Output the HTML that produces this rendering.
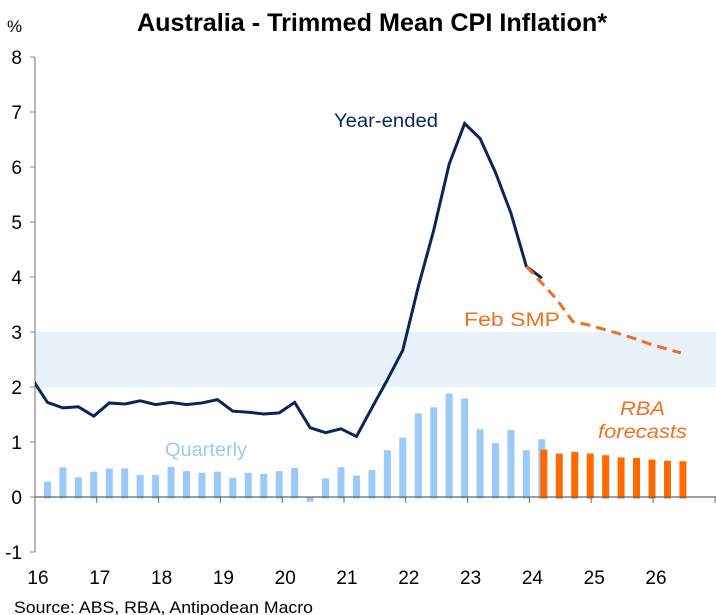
<!DOCTYPE html>
<html><head><meta charset="utf-8"><style>
body{margin:0;background:#fff;}
svg{display:block;font-family:"Liberation Sans",Arial,sans-serif;}
</style></head><body>
<svg width="716" height="615" viewBox="0 0 716 615">
<text x="137" y="31" font-size="25" font-weight="bold" fill="#000" textLength="470" lengthAdjust="spacingAndGlyphs">Australia - Trimmed Mean CPI Inflation*</text>
<text x="7" y="32" font-size="17" fill="#000">%</text>
<rect x="35" width="681" id="band" fill="#e9f2fa"/>
<g id="bars"></g>
<g id="axes"></g>
<defs><clipPath id="pc"><rect x="35" y="40" width="681" height="520"/></clipPath></defs>
<g id="lines" clip-path="url(#pc)"></g>
<text x="334" y="127" font-size="19" fill="#0b2559" textLength="104" lengthAdjust="spacingAndGlyphs">Year-ended</text>
<text x="165" y="456" font-size="19" fill="#9ccaf8" textLength="82" lengthAdjust="spacingAndGlyphs">Quarterly</text>
<text x="464" y="326" font-size="19" fill="#f07020" textLength="96" lengthAdjust="spacingAndGlyphs">Feb SMP</text>
<text x="620" y="415" font-size="19" font-style="italic" fill="#f07020" textLength="45" lengthAdjust="spacingAndGlyphs">RBA</text>
<text x="598" y="438" font-size="19" font-style="italic" fill="#f07020" textLength="89" lengthAdjust="spacingAndGlyphs">forecasts</text>
<text x="14" y="613" font-size="17" fill="#000" textLength="299" lengthAdjust="spacingAndGlyphs">Source: ABS, RBA, Antipodean Macro</text>
</svg>
<script>
const yearLabels = ["16","17","18","19","20","21","22","23","24","25","26"];
const yTicks = [-1,0,1,2,3,4,5,6,7,8];
const yearEnded = [2.15,1.72,1.62,1.64,1.47,1.71,1.69,1.75,1.68,1.72,1.68,1.71,1.77,1.56,1.54,1.51,1.53,1.72,1.26,1.17,1.24,1.10,1.62,2.13,2.67,3.82,4.85,6.05,6.79,6.52,5.90,5.16,4.19,3.98];
const quarterly = [0.28,0.54,0.36,0.46,0.52,0.52,0.40,0.40,0.55,0.47,0.44,0.46,0.35,0.44,0.42,0.47,0.53,-0.06,0.34,0.54,0.39,0.49,0.85,1.08,1.52,1.63,1.88,1.79,1.23,0.98,1.22,0.85,1.05];
const forecastQ = [0.86,0.79,0.82,0.79,0.76,0.72,0.71,0.68,0.66,0.65];
const smpYear = [4.19,3.89,3.58,3.19,3.13,3.05,2.97,2.88,2.78,2.70,2.62];
const band = [2,3];

const NS="http://www.w3.org/2000/svg";
const y = v => 497 - v*55;
const x = q => 32 + 15.45*q;
function mk(tag, attrs, parent){const e=document.createElementNS(NS,tag);for(const k in attrs)e.setAttribute(k,attrs[k]);parent.appendChild(e);return e;}

const b=document.getElementById('band');
b.setAttribute('y', y(band[1])); b.setAttribute('height', y(band[0])-y(band[1]));

const bars=document.getElementById('bars');
quarterly.forEach((v,i)=>{
  const cx=x(i+1);
  const r=mk('rect',{x:cx-3.5,y:Math.min(y(v),y(0)),width:7,height:Math.abs(y(v)-y(0))+1.5,fill:'#9ccaf8'},bars);
  
  
});
forecastQ.forEach((v,i)=>{
  const cx=x(i+33)+2;
  const r=mk('rect',{x:cx-3.5,y:y(v),width:7,height:y(0)-y(v)+1.5,fill:'#ff6a00'},bars);
  
  
});

const ax=document.getElementById('axes');
mk('line',{x1:35,y1:y(8),x2:35,y2:y(-1),stroke:'#888','stroke-width':1.2},ax);
mk('line',{x1:35,y1:y(0),x2:716,y2:y(0),stroke:'#666','stroke-width':1.2},ax);
yTicks.forEach(t=>{
  mk('line',{x1:30,y1:y(t),x2:35,y2:y(t),stroke:'#888'},ax);
  const tx=mk('text',{x:22,y:y(t)+7,'font-size':19,'text-anchor':'end',fill:'#000'},ax);
  tx.textContent=t;
  
  
});
yearLabels.forEach((l,i)=>{
  const px=35+61.8*i;
  if(i>0) mk('line',{x1:px,y1:y(0),x2:px,y2:y(0)+6,stroke:'#666'},ax);
  const tx=mk('text',{x:px+3,y:584,'font-size':19,'text-anchor':'middle',fill:'#000'},ax);
  tx.textContent=l;
  
  
});
mk('line',{x1:715,y1:y(0),x2:715,y2:y(0)+6,stroke:'#666'},ax);

const lines=document.getElementById('lines');
const p1=mk('polyline',{points:yearEnded.map((v,i)=>x(i)+','+y(v)).join(' '),fill:'none',stroke:'#0b2559','stroke-width':3,'stroke-linejoin':'miter'},lines);


const p2=mk('polyline',{points:smpYear.map((v,i)=>x(i+32)+','+y(v)).join(' '),fill:'none',stroke:'#f07020','stroke-width':3,'stroke-dasharray':'10,6'},lines);


</script>
</body></html>
